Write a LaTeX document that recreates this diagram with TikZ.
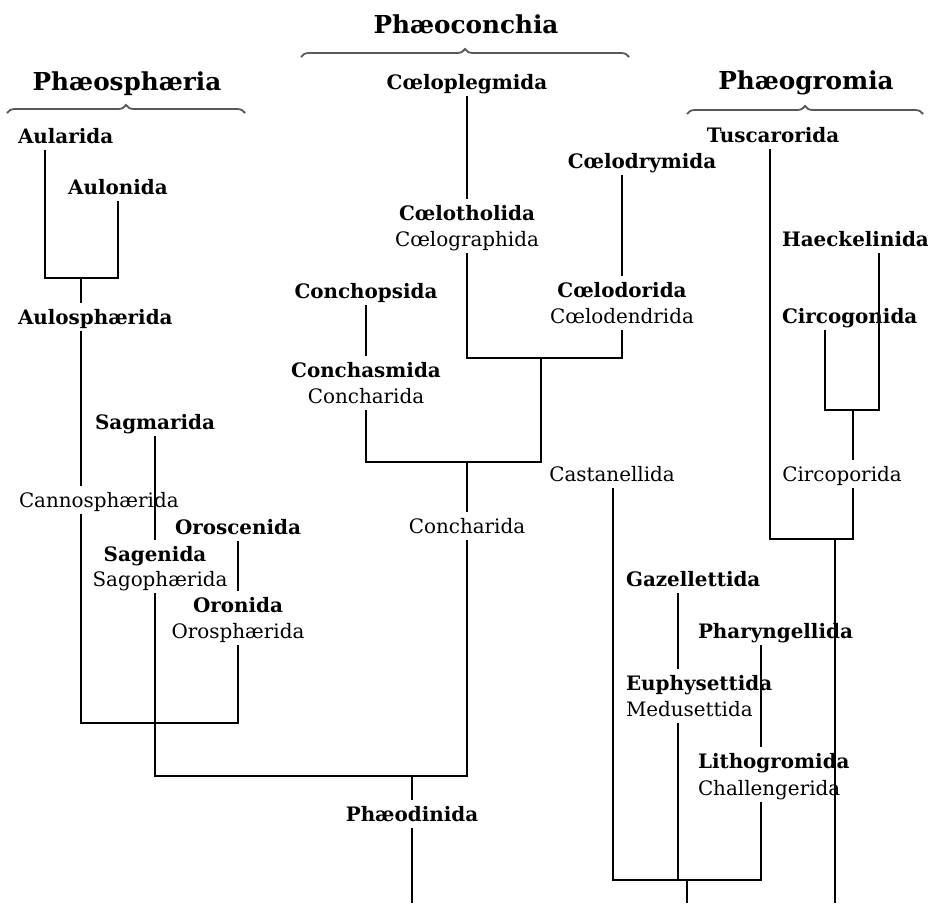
\documentclass[tikz,border=0pt]{standalone}
\usepackage{fontspec}
\setmainfont{DejaVu Serif}
\usetikzlibrary{decorations.pathreplacing}

\tikzset{
  taxon/.style={font=\bfseries\fontsize{19.9}{23}\selectfont, inner sep=0pt, text height=20pt, text depth=6pt},
  synonym/.style={font=\fontsize{19.9}{23}\selectfont, inner sep=0pt, text height=20pt, text depth=6pt},
  group/.style={font=\bfseries\fontsize{24.7}{29}\selectfont, inner sep=0pt},
  groupbrace/.style={decorate, decoration={brace, amplitude=8pt}, gray!70!black, line width=1.8pt},
}

\begin{document}
\begin{tikzpicture}[x=1pt, y=-1pt, line width=2pt]
  \useasboundingbox (0,0) rectangle (928,903);

  % group headings
  \node[group, anchor=base] (phaeosph) at (127,90) {Phæosphæria};
  \node[group, anchor=base] (phaeoconch) at (466,33) {Phæoconchia};
  \node[group, anchor=base] (phaeogrom) at (806,89) {Phæogromia};
  \draw[groupbrace] (7,113) -- (245,113);
  \draw[groupbrace] (301,57) -- (629,57);
  \draw[groupbrace] (687,114) -- (923,114);

  % Phæosphæria
  \node[taxon, anchor=base west] (aularida) at (17,143) {Aularida};
  \node[taxon, anchor=base] (aulonida) at (118,194) {Aulonida};
  \node[taxon, anchor=base west] (aulosph) at (17,324) {Aulosphærida};
  \node[synonym, anchor=base west] (cannosph) at (18,507) {Cannosphærida};
  \node[taxon, anchor=base] (sagmarida) at (155,429) {Sagmarida};
  \node[taxon, anchor=base] (oroscen) at (238,534) {Oroscenida};
  \node[taxon, anchor=base] (sagenida) at (155,561) {Sagenida};
  \node[synonym, anchor=base] (sagoph) at (160,586) {Sagophærida};
  \node[taxon, anchor=base] (oronida) at (238,612) {Oronida};
  \node[synonym, anchor=base] (orosph) at (238,638) {Orosphærida};
  \node[taxon, anchor=base] (phaeodin) at (412,821) {Phæodinida};

  % Phæoconchia
  \node[taxon, anchor=base] (coeloplegm) at (467,89) {Cœloplegmida};
  \node[taxon, anchor=base] (coeloth) at (467,220) {Cœlotholida};
  \node[synonym, anchor=base] (coelogr) at (467,246) {Cœlographida};
  \node[taxon, anchor=base] (coelodrym) at (642,168) {Cœlodrymida};
  \node[taxon, anchor=base] (coelodor) at (622,297) {Cœlodorida};
  \node[synonym, anchor=base] (coelodend) at (622,323) {Cœlodendrida};
  \node[taxon, anchor=base] (conchop) at (366,298) {Conchopsida};
  \node[taxon, anchor=base] (conchasm) at (366,377) {Conchasmida};
  \node[synonym, anchor=base] (conchA) at (366,403) {Concharida};
  \node[synonym, anchor=base] (conchB) at (467,533) {Concharida};

  % Phæogromia
  \node[taxon, anchor=base] (tusc) at (773,142) {Tuscarorida};
  \node[taxon, anchor=base west] (haeck) at (781,246) {Haeckelinida};
  \node[taxon, anchor=base west] (circogon) at (781,323) {Circogonida};
  \node[synonym, anchor=base] (circopor) at (842,481) {Circoporida};
  \node[synonym, anchor=base] (castan) at (612,481) {Castanellida};
  \node[taxon, anchor=base west] (gazel) at (625,586) {Gazellettida};
  \node[taxon, anchor=base west] (pharyn) at (697,638) {Pharyngellida};
  \node[taxon, anchor=base west] (euphys) at (625,690) {Euphysettida};
  \node[synonym, anchor=base west] (medus) at (625,716) {Medusettida};
  \node[taxon, anchor=base west] (lithog) at (697,768) {Lithogromida};
  \node[synonym, anchor=base west] (challeng) at (697,795) {Challengerida};

  % branch corners
  \coordinate (aul-l) at (45,278);
  \coordinate (aul-r) at (118,278);
  \coordinate (aul-m) at (81,278);
  \coordinate (can-b) at (81,723);
  \coordinate (oro-b) at (238,723);
  \coordinate (sag-b) at (155,776);
  \coordinate (con-b) at (467,776);
  \coordinate (pho-m) at (412,776);
  \coordinate (pho-e) at (412,903);
  \coordinate (cde-b) at (622,358);
  \coordinate (coe-m) at (541,358);
  \coordinate (con-r) at (541,462);
  \coordinate (con-l) at (366,462);
  \coordinate (con-m) at (467,462);
  \coordinate (tus-b) at (770,539);
  \coordinate (cpo-b) at (853,539);
  \coordinate (hae-b) at (879,410);
  \coordinate (cgo-b) at (825,410);
  \coordinate (cgo-m) at (853,410);
  \coordinate (gro-m) at (835,539);
  \coordinate (gro-e) at (835,903);
  \coordinate (cas-b) at (613,880);
  \coordinate (eup-b) at (678,880);
  \coordinate (lit-b) at (761,880);
  \coordinate (cas-m) at (687,880);
  \coordinate (cas-e) at (687,903);

  % left tree
  \draw (aularida.south -| aul-l) -- (aul-l) -- (aul-r) -- (aulonida.south);
  \draw (aul-m) -- (aulosph.north -| aul-m);
  \draw (aulosph.south -| aul-m) -- (cannosph.north -| aul-m);
  \draw (cannosph.south -| can-b) -- (can-b) -- (oro-b) -- (orosph.south -| oro-b);
  \draw (oroscen.south) -- (oronida.north);
  \draw (sagmarida.south) -- (sagenida.north);
  \draw (sagoph.south -| sag-b) -- (sag-b) -- (con-b) -- (conchB.south);
  \draw (pho-m) -- (phaeodin.north);
  \draw (phaeodin.south) -- (pho-e);

  % middle tree
  \draw (coeloplegm.south) -- (coeloth.north);
  \draw (coelogr.south) -- (coelogr.south |- cde-b) -- (cde-b) -- (coelodend.south);
  \draw (coelodrym.south -| coelodor) -- (coelodor.north);
  \draw (coe-m) -- (con-r) -- (con-l) -- (conchA.south);
  \draw (conchop.south) -- (conchasm.north);
  \draw (con-m) -- (conchB.north);

  % right tree
  \draw (tusc.south -| tus-b) -- (tus-b) -- (cpo-b) -- (circopor.south -| cpo-b);
  \draw (haeck.south -| hae-b) -- (hae-b) -- (cgo-b) -- (circogon.south -| cgo-b);
  \draw (cgo-m) -- (circopor.north -| cgo-m);
  \draw (gro-m) -- (gro-e);
  \draw (castan.south -| cas-b) -- (cas-b) -- (lit-b) -- (challeng.south -| lit-b);
  \draw (gazel.south -| eup-b) -- (euphys.north -| eup-b);
  \draw (medus.south -| eup-b) -- (eup-b);
  \draw (pharyn.south -| lit-b) -- (lithog.north -| lit-b);
  \draw (cas-m) -- (cas-e);
\end{tikzpicture}
\end{document}
